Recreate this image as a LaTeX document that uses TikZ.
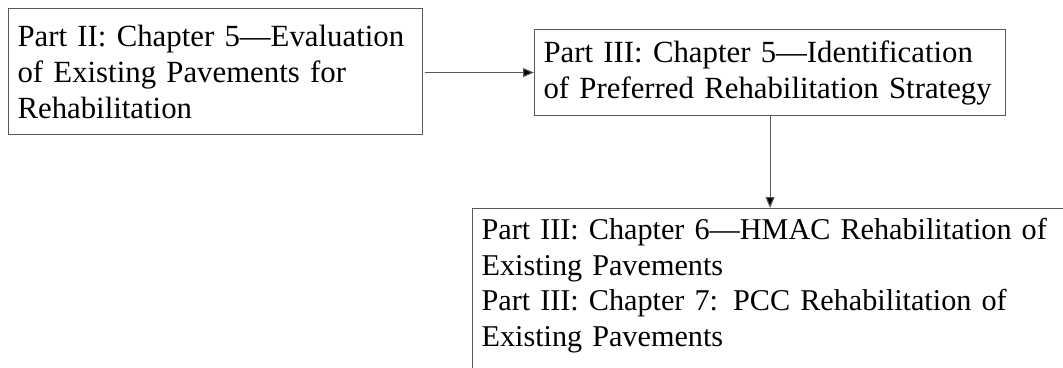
\documentclass[tikz,border=0pt]{standalone}
\usepackage{fontspec}
\setmainfont{Liberation Serif}
\usetikzlibrary{arrows.meta}

\tikzset{
	stage/.style = {draw = black!65, line width = 1.1pt, anchor = north west,
		align = left, inner xsep = 9pt, inner ysep = 0pt},
	link/.style = {draw = black!65, line width = 1.1pt,
		-{Triangle[length = 11pt, width = 9pt, fill = black]}}
}

\begin{document}
\begin{tikzpicture}[x = 1pt, y = 1pt, font = \fontsize{30.8}{36}\selectfont]

	\useasboundingbox (0, 0) rectangle (1063, -367);
	\clip (0, 0) rectangle (1063, -367);

	% Chapter boxes

	\node (evaluation) [stage, text width = 396pt, minimum height = 126pt] at (8, -8)
		{Part II: Chapter 5---Evaluation\\of Existing Pavements for\\Rehabilitation};
	\node (strategy) [stage, text width = 453pt, minimum height = 86pt] at (534, -29)
		{Part III: Chapter 5---Identification\\of Preferred Rehabilitation Strategy};
	\node (design) [stage, text width = 640pt, inner ysep = 10pt,
		font = \fontsize{30.2}{35.5}\selectfont] at (472, -208)
		{Part III: Chapter 6---HMAC Rehabilitation of\\Existing Pavements\\
		Part III: Chapter 7: PCC Rehabilitation of\\Existing Pavements\rule[-60pt]{0pt}{60pt}};

	% Arrows between boxes

	\begin{scope}[link]

		\draw ([xshift = 2pt] evaluation.east |- strategy.west) -- (strategy.west);
		\draw (strategy.south) -- (strategy.south |- design.north);

	\end{scope}

\end{tikzpicture}
\end{document}
